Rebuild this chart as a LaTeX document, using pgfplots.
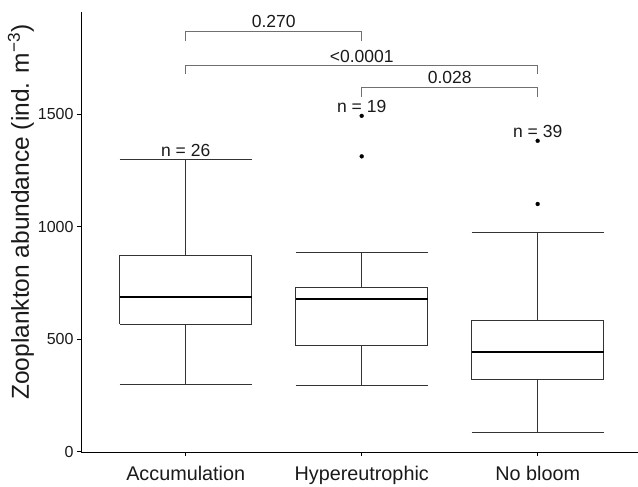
\documentclass[border=0pt]{standalone}
\usepackage{fontspec}
\setmainfont{Liberation Sans}
\usepackage{pgfplots}
\pgfplotsset{compat=1.18}
\definecolor{boxc}{HTML}{333333}
\definecolor{brk}{HTML}{707070}
\definecolor{txt}{HTML}{1A1A1A}
\begin{document}
\begin{tikzpicture}
\begin{axis}[
  at={(81pt,35pt)}, anchor=south west,
  scale only axis, width=557pt, height=440pt,
  xmin=0.405, xmax=3.57, ymin=-2, ymax=1955,
  axis lines=left, axis line style={-, black, line width=0.9pt},
  xtick={1,2,3}, xticklabels={Accumulation,Hypereutrophic,No bloom},
  ytick={0,500,1000,1500},
  tick align=outside, major tick length=4pt,
  tick style={black, line width=0.9pt},
  x tick label style={font=\fontsize{19.8}{22}\selectfont, text=txt, yshift=-7pt},
  y tick label style={font=\fontsize{16}{19}\selectfont, text=txt},
  /pgf/number format/assume math mode=true,
  /pgf/number format/set thousands separator={},
  ylabel={Zooplankton abundance (ind. m\textsuperscript{−3})},
  ylabel style={font=\fontsize{24.5}{28}\selectfont, text=txt, at={(axis description cs:-0.1077,0.545)}, anchor=center},
  clip=false,
  every axis plot/.append style={line width=1pt, mark=none},
]
% Accumulation
\addplot[boxc] coordinates {(0.625,566) (1.375,566) (1.375,874) (0.625,874) (0.625,566)};
\addplot[boxc] coordinates {(1,874) (1,1298)};
\addplot[boxc] coordinates {(1,566) (1,296)};
\addplot[boxc] coordinates {(0.625,1298) (1.375,1298)};
\addplot[boxc] coordinates {(0.625,296) (1.375,296)};
\addplot[black, line width=2pt] coordinates {(0.625,689) (1.375,689)};
% Hypereutrophic
\addplot[boxc] coordinates {(1.625,470) (2.375,470) (2.375,729) (1.625,729) (1.625,470)};
\addplot[boxc] coordinates {(2,729) (2,884)};
\addplot[boxc] coordinates {(2,470) (2,295)};
\addplot[boxc] coordinates {(1.625,884) (2.375,884)};
\addplot[boxc] coordinates {(1.625,295) (2.375,295)};
\addplot[black, line width=2pt] coordinates {(1.625,679) (2.375,679)};
% No bloom
\addplot[boxc] coordinates {(2.625,319) (3.375,319) (3.375,581) (2.625,581) (2.625,319)};
\addplot[boxc] coordinates {(3,581) (3,973)};
\addplot[boxc] coordinates {(3,319) (3,86)};
\addplot[boxc] coordinates {(2.625,973) (3.375,973)};
\addplot[boxc] coordinates {(2.625,86) (3.375,86)};
\addplot[black, line width=2pt] coordinates {(2.625,442) (3.375,442)};
% outliers
\addplot[only marks, mark=*, mark size=2pt, mark options={fill=black, draw=black, line width=0.2pt}] coordinates {(2,1493) (2,1313) (3,1382) (3,1101)};
% brackets
\addplot[brk] coordinates {(1,1827) (1,1867) (2,1867) (2,1827)};
\addplot[brk] coordinates {(1,1679) (1,1717) (3,1717) (3,1679)};
\addplot[brk] coordinates {(2,1578) (2,1618) (3,1618) (3,1578)};
\begin{scope}[every node/.style={font=\fontsize{17.5}{20}\selectfont, text=txt}]
\node at (axis cs:1.5,1911) {0.270};
\node at (axis cs:2,1759) {<0.0001};
\node at (axis cs:2.5,1662) {0.028};
\node at (axis cs:1,1338) {n = 26};
\node at (axis cs:2,1536) {n = 19};
\node at (axis cs:3,1422) {n = 39};
\end{scope}
\end{axis}
\pgfresetboundingbox
\useasboundingbox (0,0) rectangle (638pt,487pt);
\end{tikzpicture}
\end{document}
